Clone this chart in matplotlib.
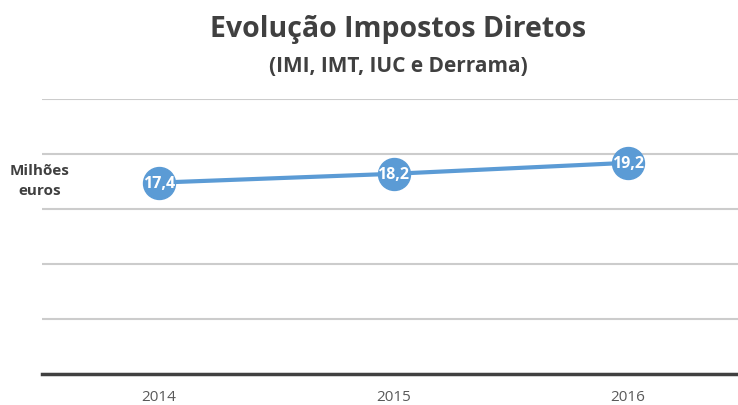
"""
Evolução Impostos Diretos (IMI, IMT, IUC e Derrama), 2014-2016.
Saves out.png.
"""

import matplotlib.pyplot as plt

YEARS = ["2014", "2015", "2016"]
VALUES = [17.4, 18.2, 19.2]
VALUE_LABELS = ["17,4", "18,2", "19,2"]
Y_GRID = [0, 5, 10, 15, 20, 25]

LINE_COLOR = "#5b9bd5"
TEXT_COLOR = "#404040"

plt.rcParams["font.family"] = ["Open Sans", "DejaVu Sans"]


def main():
    fig = plt.figure(figsize=(7.38, 4.06), dpi=100)
    ax = fig.add_axes([42 / 738, 1 - 375 / 406, 696 / 738, 275 / 406])

    x = list(range(len(YEARS)))
    ax.plot(x, VALUES, color=LINE_COLOR, linewidth=3, marker="o",
            markersize=23, markerfacecolor=LINE_COLOR,
            markeredgecolor=LINE_COLOR, zorder=3, clip_on=False)

    for xi, v, label in zip(x, VALUES, VALUE_LABELS):
        ax.text(xi, v, label, ha="center", va="center", color="white",
                fontsize=11.5, fontweight="bold", zorder=4)

    ax.set_xlim(-0.5, 2.47)
    ax.set_ylim(0, 25)
    ax.set_yticks(Y_GRID)
    ax.set_yticklabels([])
    ax.tick_params(axis="y", length=0)
    ax.set_xticks(x)
    ax.set_xticklabels(YEARS, color="#595959", fontsize=11)
    ax.tick_params(axis="x", length=0, pad=11)
    ax.grid(axis="y", color="#cccccc", linewidth=1.5)
    ax.set_axisbelow(True)

    for side in ["top", "right", "left"]:
        ax.spines[side].set_visible(False)
    ax.spines["bottom"].set_color("#404040")
    ax.spines["bottom"].set_linewidth(2.5)

    fig.text(398 / 738, 1 - 30 / 406, "Evolução Impostos Diretos",
             ha="center", va="center", fontsize=20.5, fontweight="bold",
             color=TEXT_COLOR)
    fig.text(398 / 738, 1 - 67 / 406, "(IMI, IMT, IUC e Derrama)",
             ha="center", va="center", fontsize=15, fontweight="bold",
             color=TEXT_COLOR)
    fig.text(40 / 738, 1 - 181 / 406, "Milhões\neuros", ha="center",
             va="center", fontsize=11, fontweight="bold", color=TEXT_COLOR,
             linespacing=1.5)

    fig.savefig("out.png", dpi=100)
    plt.close(fig)


if __name__ == "__main__":
    main()
